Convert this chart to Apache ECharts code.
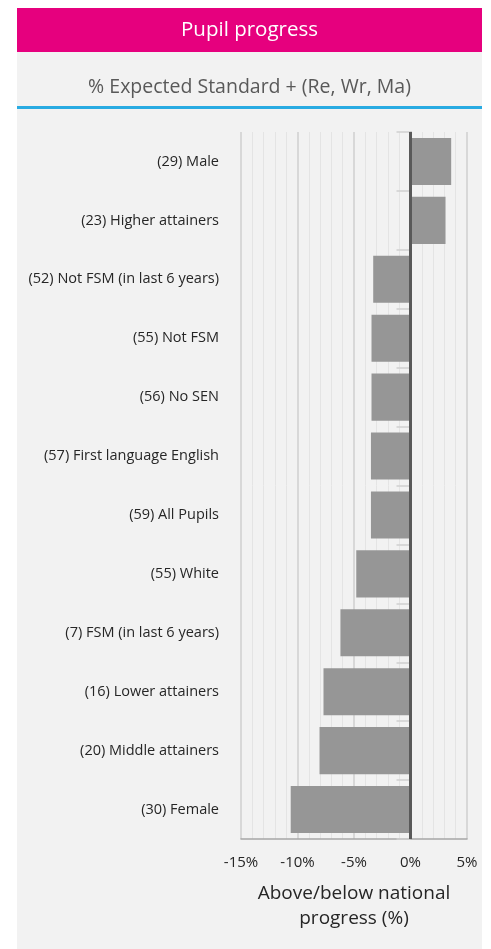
<!DOCTYPE html>
<html>
<head>
<meta charset="utf-8">
<script src="https://cdn.jsdelivr.net/npm/echarts@6/dist/echarts.min.js"></script>
<style>
html,body{margin:0;padding:0;background:#ffffff;}
#chart{width:491px;height:949px;}
</style>
</head>
<body>
<div id="chart"></div>
<script>
const titleText = 'Pupil progress';
const subtitleText = '% Expected Standard + (Re, Wr, Ma)';
const categories = [
  '(29) Male',
  '(23) Higher attainers',
  '(52) Not FSM (in last 6 years)',
  '(55) Not FSM',
  '(56) No SEN',
  '(57) First language English',
  '(59) All Pupils',
  '(55) White',
  '(7) FSM (in last 6 years)',
  '(16) Lower attainers',
  '(20) Middle attainers',
  '(30) Female'
];
const values = [3.6, 3.1, -3.3, -3.45, -3.45, -3.5, -3.5, -4.8, -6.2, -7.7, -8.05, -10.6];
const xTicks = [-15, -10, -5, 0, 5];
const xAxisName = 'Above/below national\nprogress (%)';

const FONT = '"Open Sans", "Noto Sans", sans-serif';
const chart = echarts.init(document.getElementById('chart'), null, {renderer: 'canvas'});
chart.setOption({
  backgroundColor: '#ffffff',
  animation: false,
  graphic: [
    {type: 'rect', z: -10, shape: {x: 17, y: 8, width: 465, height: 941}, style: {fill: '#f2f2f2'}},
    {type: 'rect', z: -9, shape: {x: 17, y: 8, width: 465, height: 44}, style: {fill: '#e6007e'}},
    {type: 'rect', z: -9, shape: {x: 17, y: 106, width: 465, height: 3}, style: {fill: '#29abe2'}},
    {type: 'text', z: 10, x: 249.5, y: 30, style: {text: titleText, fill: '#ffffff',
      font: '20.5px ' + FONT, align: 'center', verticalAlign: 'middle'}},
    {type: 'text', z: 10, x: 249.5, y: 87, style: {text: subtitleText, fill: '#595959',
      font: '19.5px ' + FONT, align: 'center', verticalAlign: 'middle'}}
  ],
  grid: {left: 241, right: 24, top: 132, bottom: 110, containLabel: false},
  xAxis: {
    type: 'value',
    min: xTicks[0],
    max: xTicks[xTicks.length - 1],
    interval: 5,
    name: xAxisName,
    nameLocation: 'middle',
    nameGap: 42,
    nameTextStyle: {color: '#262626', fontFamily: FONT, fontSize: 19, lineHeight: 25, align: 'center', verticalAlign: 'top'},
    axisLine: {show: true, lineStyle: {color: '#a6a6a6', width: 1.5}},
    axisTick: {show: false},
    axisLabel: {color: '#262626', fontFamily: FONT, fontSize: 15, margin: 16,
      formatter: v => v + '%'},
    splitLine: {show: true, lineStyle: {color: '#cfcfcf', width: 1.5}},
    minorTick: {show: false, splitNumber: 5},
    minorSplitLine: {show: true, lineStyle: {color: '#e4e4e4', width: 1}}
  },
  yAxis: {
    type: 'category',
    data: categories,
    inverse: true,
    axisLine: {show: true, lineStyle: {color: '#a6a6a6', width: 1.5}},
    axisTick: {show: true, length: 14, lineStyle: {color: '#d0d0d0', width: 1.5}},
    axisLabel: {color: '#262626', fontFamily: FONT, fontSize: 14.5, margin: 22},
    splitLine: {show: false}
  },
  series: [{
    type: 'bar',
    data: values,
    barCategoryGap: '20%',
    itemStyle: {color: '#969696'},
    markLine: {
      silent: true,
      symbol: 'none',
      label: {show: false},
      lineStyle: {color: '#595959', width: 3, type: 'solid'},
      data: [{xAxis: 0}]
    }
  }]
});
</script>
</body>
</html>
